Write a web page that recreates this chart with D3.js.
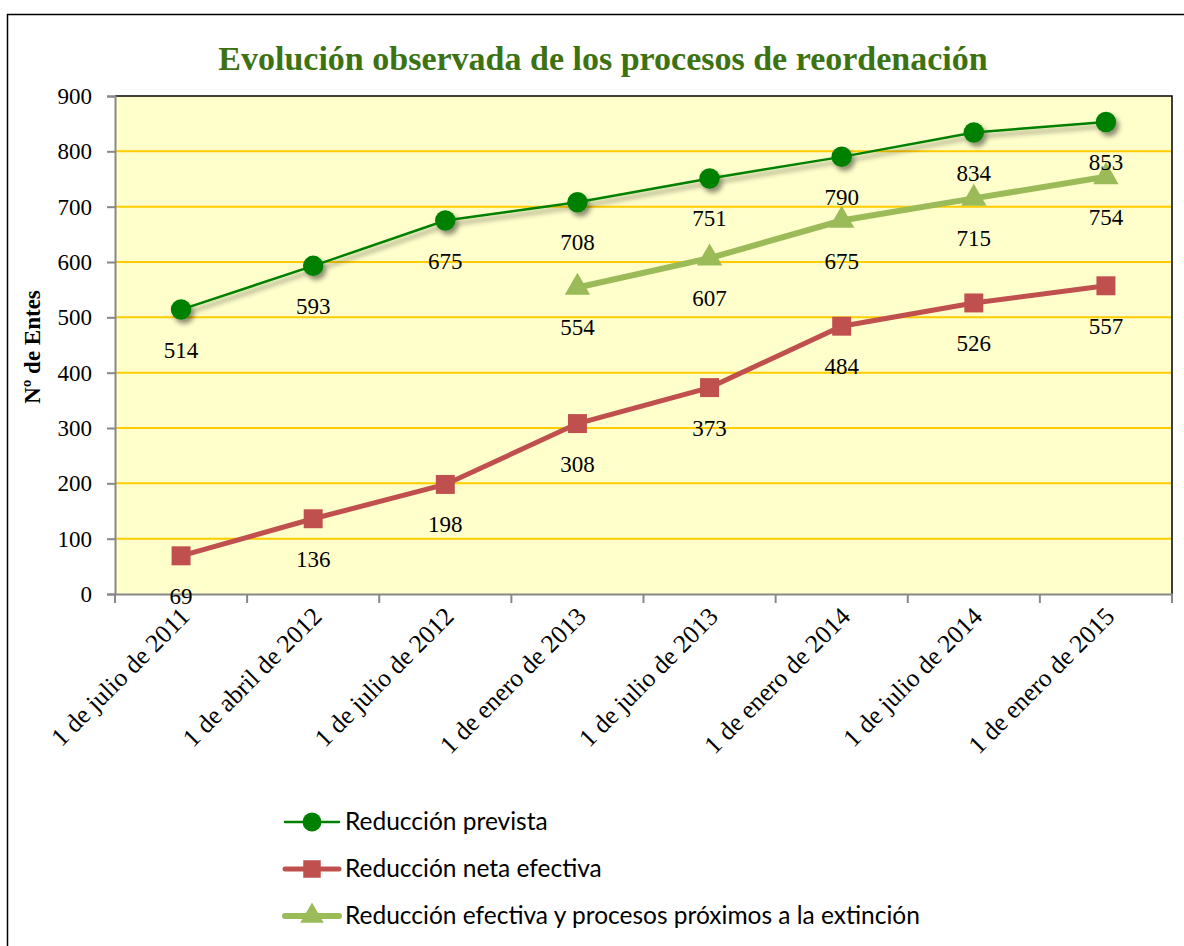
<!DOCTYPE html>
<html>
<head>
<meta charset="utf-8">
<script src="https://cdn.jsdelivr.net/npm/d3@7"></script>
<style>
  body { margin: 0; background: #fff; }
  svg { display: block; }
</style>
</head>
<body>
<script>
// data
var fechas = ["1 de julio de 2011", "1 de abril de 2012", "1 de julio de 2012", "1 de enero de 2013",
  "1 de julio de 2013", "1 de enero de 2014", "1 de julio de 2014", "1 de enero de 2015"];
var prevista = [514, 593, 675, 708, 751, 790, 834, 853];
var netaEfectiva = [69, 136, 198, 308, 373, 484, 526, 557];
var proximosExtincion = [null, null, null, 554, 607, 675, 715, 754];
var yTicks = [0, 100, 200, 300, 400, 500, 600, 700, 800, 900];

var W = 1184, H = 946;
var serif = "'Liberation Serif', 'DejaVu Serif', serif";

var svg = d3.select("body").append("svg")
    .attr("width", W)
    .attr("height", H);

var defs = svg.append("defs");
var f = defs.append("filter").attr("id", "sombra")
    .attr("x", "-50%").attr("y", "-50%").attr("width", "200%").attr("height", "200%");
f.append("feDropShadow").attr("dx", 3).attr("dy", 4).attr("stdDeviation", 2.5)
    .attr("flood-color", "#000").attr("flood-opacity", 0.45);

// chart border
svg.append("rect")
    .attr("x", 7.5).attr("y", 14.5)
    .attr("width", 1200).attr("height", 960)
    .attr("fill", "#fff").attr("stroke", "#000").attr("stroke-width", 1.5);

var x0 = 115, x1 = 1172, y0 = 96, y1 = 594;

var x = d3.scaleBand().domain(fechas).range([x0, x1]);
var y = d3.scaleLinear().domain([0, 900]).range([y1, y0]);

// plot area
svg.append("rect")
    .attr("x", x0).attr("y", y0)
    .attr("width", x1 - x0).attr("height", y1 - y0)
    .attr("fill", "#ffffcc");

svg.append("g").selectAll("line")
  .data(yTicks.filter(d => d > 0 && d < 900))
  .enter().append("line")
    .attr("x1", x0).attr("x2", x1)
    .attr("y1", d => y(d)).attr("y2", d => y(d))
    .attr("stroke", "#ffcc00").attr("stroke-width", 2);

// top and right border of plot
svg.append("path")
    .attr("d", `M${x0},${y0}H${x1}V${y1}`)
    .attr("fill", "none").attr("stroke", "#000").attr("stroke-width", 1.5);

// axes
var yAxis = svg.append("g")
    .attr("transform", `translate(${x0},0)`)
    .call(d3.axisLeft(y).tickValues(yTicks).tickSize(8).tickPadding(15));
yAxis.select(".domain").attr("stroke", "#888").attr("stroke-width", 2);
yAxis.selectAll(".tick line").attr("stroke", "#888").attr("stroke-width", 2);
yAxis.selectAll("text")
    .attr("font-family", serif).attr("font-size", 23).attr("fill", "#000");

var xAxis = svg.append("g")
    .attr("transform", `translate(0,${y1})`)
    .call(d3.axisBottom(x).tickSize(0).tickFormat(""));
xAxis.select(".domain").attr("stroke", "#888").attr("stroke-width", 2);

var xEdges = fechas.map(d => x(d)).concat([x1]);
xAxis.selectAll(".edge").data(xEdges).enter().append("line")
    .attr("x1", d => d).attr("x2", d => d)
    .attr("y1", 0).attr("y2", 9)
    .attr("stroke", "#888").attr("stroke-width", 2);

svg.append("g").selectAll("text")
  .data(fechas).enter().append("text")
    .attr("transform", d => `translate(${x(d) + x.bandwidth() / 2 + 10},${y1 + 24}) rotate(-45)`)
    .attr("text-anchor", "end")
    .attr("font-family", serif).attr("font-size", 25.5)
    .text(d => d);

// axis title
svg.append("text")
    .attr("transform", `translate(40,${(y0 + y1) / 2 + 2}) rotate(-90)`)
    .attr("text-anchor", "middle")
    .attr("font-family", serif).attr("font-size", 23).attr("font-weight", "bold")
    .text("Nº de Entes");

// title
svg.append("text")
    .attr("x", 603).attr("y", 70)
    .attr("text-anchor", "middle")
    .attr("font-family", serif).attr("font-size", 34).attr("font-weight", "bold")
    .attr("fill", "#3d7213")
    .text("Evolución observada de los procesos de reordenación");

var cx = d => x(d) + x.bandwidth() / 2;

var series = [
  {nombre: "Reducción prevista", vals: prevista, color: "#008000", ancho: 2.5, marca: "circle", sombra: true},
  {nombre: "Reducción neta efectiva", vals: netaEfectiva, color: "#c0504d", ancho: 5, marca: "square", sombra: false},
  {nombre: "Reducción efectiva y procesos próximos a la extinción", vals: proximosExtincion, color: "#9bbb59", ancho: 6, marca: "triangle", sombra: false}
];

var line = d3.line()
    .defined(d => d.v != null)
    .x(d => cx(d.c))
    .y(d => y(d.v));

var symbols = {circle: d3.symbolCircle, square: d3.symbolSquare, triangle: d3.symbolTriangle};
var symSize = {circle: 330, square: 360, triangle: 280};

series.forEach(function(s) {
  var pts = fechas.map((c, i) => ({c: c, v: s.vals[i]}));
  var g = svg.append("g");
  if (s.sombra) g.attr("filter", "url(#sombra)");
  g.append("path")
      .datum(pts)
      .attr("d", line)
      .attr("fill", "none")
      .attr("stroke", s.color)
      .attr("stroke-width", s.ancho);
  g.selectAll("path.m")
    .data(pts.filter(d => d.v != null))
    .enter().append("path").attr("class", "m")
      .attr("transform", d => `translate(${cx(d.c)},${y(d.v)})`)
      .attr("d", d3.symbol().type(symbols[s.marca]).size(symSize[s.marca]))
      .attr("fill", s.color);
});

// data labels
series.forEach(function(s) {
  var pts = fechas.map((c, i) => ({c: c, v: s.vals[i]}));
  svg.append("g").selectAll("text")
    .data(pts.filter(d => d.v != null))
    .enter().append("text")
      .attr("x", d => cx(d.c))
      .attr("y", d => y(d.v) + 48)
      .attr("text-anchor", "middle")
      .attr("font-family", serif).attr("font-size", 23)
      .text(d => d.v);
});

// legend
var leg = svg.append("g").attr("transform", "translate(285,822)");
series.forEach(function(s, i) {
  var r = leg.append("g").attr("transform", `translate(0,${i * 47})`);
  r.append("line")
      .attr("x1", 0).attr("x2", 54)
      .attr("stroke", s.color).attr("stroke-width", s.ancho)
      .attr("stroke-linecap", "round");
  r.append("path")
      .attr("transform", "translate(27,0)")
      .attr("d", d3.symbol().type(symbols[s.marca]).size(symSize[s.marca] * 0.85))
      .attr("fill", s.color);
  r.append("text")
      .attr("x", 60).attr("y", 8)
      .attr("font-family", "Lato, 'Open Sans', sans-serif").attr("font-size", 24.5)
      .text(s.nombre);
});
</script>
</body>
</html>
